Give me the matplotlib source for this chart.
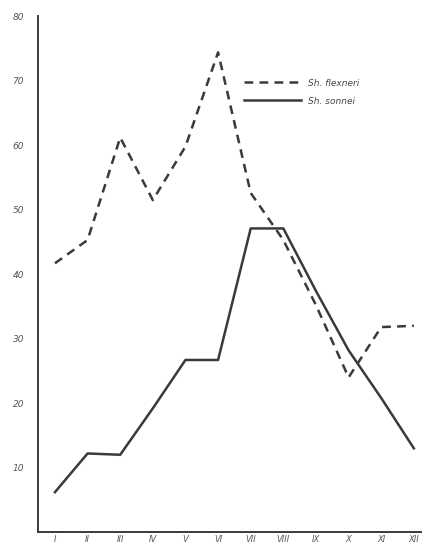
import numpy as np
import matplotlib
matplotlib.use("Agg")
import matplotlib.pyplot as plt

# monthly incidence, two Shigella species
months = ["I", "II", "III", "IV", "V", "VI", "VII", "VIII", "IX", "X", "XI", "XII"]
flexneri = [41.7, 45.3, 61.2, 51.5, 59.8, 74.4, 52.6, 45.3, 35.2, 24.0, 31.8, 32.0]
sonnei = [6.2, 12.2, 12.0, 19.2, 26.7, 26.7, 47.1, 47.1, 37.4, 28.2, 20.8, 13.0]
yticks = [10, 20, 30, 40, 50, 60, 70, 80]

ink = "#3a3a3a"

fig = plt.figure(figsize=(4.22, 5.43), dpi=100)
ax = fig.add_axes([0.09, 0.02, 0.91, 0.95])

x = np.arange(1, len(months) + 1)
ax.plot(x, flexneri, color=ink, lw=1.8, dashes=(3.5, 2.5), label="Sh. flexneri")
ax.plot(x, sonnei, color=ink, lw=1.8, label="Sh. sonnei")

ax.set_xlim(0.48, 12.25)
ax.set_ylim(0, 80)

ax.spines["top"].set_visible(False)
ax.spines["right"].set_visible(False)
for s in ("left", "bottom"):
    ax.spines[s].set_color(ink)
    ax.spines[s].set_linewidth(1.4)

ax.set_yticks(yticks)
ax.set_yticklabels([str(v) for v in yticks], fontsize=6.5, color="#555555", style="italic")
ax.set_xticks(x)
ax.set_xticklabels(months, fontsize=6, color="#555555", style="italic")
ax.tick_params(axis="both", length=0)
ax.tick_params(axis="y", pad=10)
ax.tick_params(axis="x", pad=2)

leg = ax.legend(loc="upper left", bbox_to_anchor=(0.515, 0.895), frameon=False,
                handlelength=6.3, handletextpad=0.8, labelspacing=1.0,
                prop={"size": 6.5, "style": "italic"})
for t in leg.get_texts():
    t.set_color("#444444")

fig.savefig("out.png", dpi=100, facecolor="white")
